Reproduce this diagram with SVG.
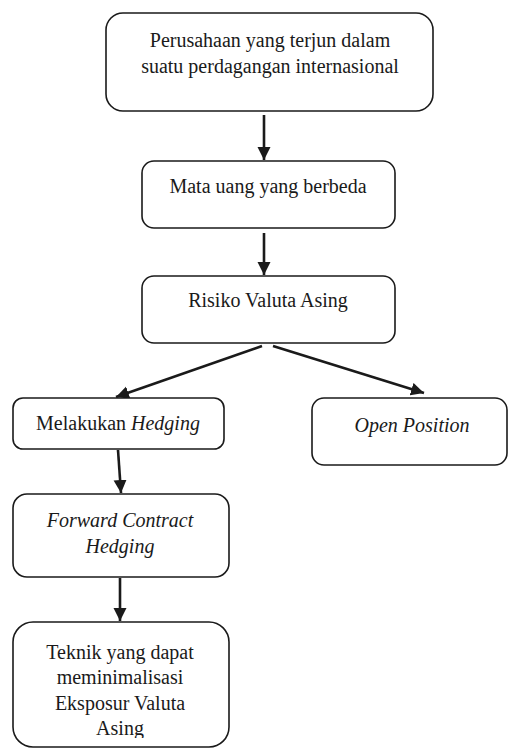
<svg xmlns="http://www.w3.org/2000/svg" width="508" height="749" viewBox="0 0 508 749">
  <style>
    .box { fill: #ffffff; stroke: #1a1a1a; stroke-width: 1.6; }
    .lbl { font-family: "Liberation Serif", "Times New Roman", serif; font-size: 20px; fill: #1a1a1a; text-anchor: middle; }
    .it { font-style: italic; }
    .edge { stroke: #1a1a1a; stroke-width: 2.6; fill: none; marker-end: url(#head); }
  </style>
  <defs>
    <marker id="head" markerUnits="userSpaceOnUse" markerWidth="14" markerHeight="14" refX="13" refY="6.5" orient="auto">
      <path d="M0,0 L13,6.5 L0,13 Z" fill="#1a1a1a"/>
    </marker>
    <clipPath id="clip-teknik">
      <rect x="13" y="622" width="216" height="116"/>
    </clipPath>
  </defs>

  <rect width="508" height="749" fill="#ffffff"/>

  <g id="connectors">
    <line class="edge" x1="264" y1="115" x2="264" y2="160"/>
    <line class="edge" x1="264" y1="233" x2="264" y2="275"/>
    <line class="edge" x1="262" y1="346" x2="116" y2="397"/>
    <line class="edge" x1="273" y1="346" x2="424" y2="393"/>
    <line class="edge" x1="118" y1="450" x2="121" y2="493"/>
    <line class="edge" x1="120" y1="578" x2="120" y2="621"/>
  </g>

  <g id="perusahaan">
    <rect class="box" x="106" y="13" width="327" height="98" rx="17"/>
    <text class="lbl" x="270" y="47">Perusahaan yang terjun dalam</text>
    <text class="lbl" x="270" y="73">suatu perdagangan internasional</text>
  </g>

  <g id="mata-uang">
    <rect class="box" x="142" y="161" width="253" height="67" rx="12"/>
    <text class="lbl" x="268" y="193">Mata uang yang berbeda</text>
  </g>

  <g id="risiko">
    <rect class="box" x="142" y="276" width="253" height="67" rx="12"/>
    <text class="lbl" x="268" y="307">Risiko Valuta Asing</text>
  </g>

  <g id="hedging">
    <rect class="box" x="13" y="398" width="211" height="51" rx="10"/>
    <text class="lbl" x="118" y="430">Melakukan <tspan class="it">Hedging</tspan></text>
  </g>

  <g id="open-position">
    <rect class="box" x="312" y="398" width="195" height="67" rx="12"/>
    <text class="lbl it" x="412" y="432">Open Position</text>
  </g>

  <g id="forward">
    <rect class="box" x="13" y="494" width="216" height="83" rx="14"/>
    <text class="lbl it" x="120" y="527">Forward Contract</text>
    <text class="lbl it" x="120" y="553">Hedging</text>
  </g>

  <g id="teknik">
    <rect class="box" x="13" y="622" width="216" height="125" rx="20"/>
    <g clip-path="url(#clip-teknik)">
      <text class="lbl" x="120" y="659">Teknik yang dapat</text>
      <text class="lbl" x="120" y="684">meminimalisasi</text>
      <text class="lbl" x="120" y="710">Eksposur Valuta</text>
      <text class="lbl" x="120" y="735">Asing</text>
    </g>
  </g>
</svg>
